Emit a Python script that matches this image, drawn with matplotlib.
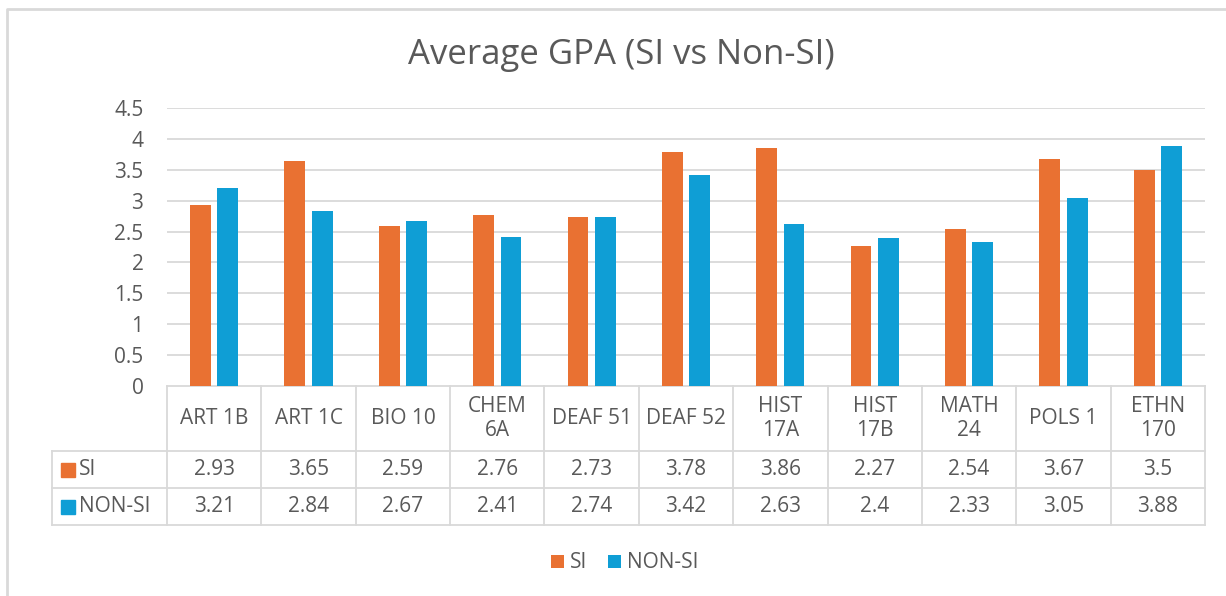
import numpy as np
import matplotlib
matplotlib.use('Agg')
import matplotlib.pyplot as plt
from matplotlib.lines import Line2D

# data
courses = ['ART 1B', 'ART 1C', 'BIO 10', 'CHEM\n6A', 'DEAF 51', 'DEAF 52',
           'HIST\n17A', 'HIST\n17B', 'MATH\n24', 'POLS 1', 'ETHN\n170']
si = [2.93, 3.65, 2.59, 2.76, 2.73, 3.78, 3.86, 2.27, 2.54, 3.67, 3.5]
non_si = [3.21, 2.84, 2.67, 2.41, 2.74, 3.42, 2.63, 2.4, 2.33, 3.05, 3.88]
series = ['SI', 'NON-SI']
yticks = [0, 0.5, 1, 1.5, 2, 2.5, 3, 3.5, 4, 4.5]

orange = '#E97132'
blue = '#0F9ED5'
txt = '#595959'
grid = '#D9D9D9'
fs = 15

plt.rcParams['font.family'] = ['Open Sans', 'DejaVu Sans']

W, H = 1226, 596
fig = plt.figure(figsize=(W / 100, H / 100), dpi=100)
fig.patch.set_facecolor('white')

# chart frame (only top and left edges fall inside the picture)
fig.lines.append(Line2D([7 / W, 7 / W, 1], [0, 1 - 9 / H, 1 - 9 / H],
                        transform=fig.transFigure, color=grid, linewidth=2))

left, right, top, bottom = 167, 1205, 108, 386
ax = fig.add_axes([left / W, 1 - bottom / H, (right - left) / W, (bottom - top) / H])

x = np.arange(len(courses))
bw = 0.22
off = 0.145
b1 = ax.bar(x - off, si, bw, color=orange, label=series[0], zorder=3)
b2 = ax.bar(x + off, non_si, bw, color=blue, label=series[1], zorder=3)

ax.set_xlim(-0.5, len(courses) - 0.5)
ax.set_ylim(0, 4.5)
ax.set_yticks(yticks)
ax.set_yticklabels([f'{v:g}' for v in yticks])
ax.tick_params(axis='y', length=0, labelsize=fs, labelcolor=txt, pad=17)
ax.set_xticks([])
for s in ax.spines.values():
    s.set_visible(False)
for v in yticks[1:]:
    ax.axhline(v, color=grid, linewidth=1.3, zorder=1)

fig.text(621 / W, 1 - 55 / H, 'Average GPA (SI vs Non-SI)', fontsize=25, color=txt,
         ha='center', va='center')

# data table below the axis
tr = ax.get_xaxis_transform()
px = (right - left) / len(courses)      # pixels per category
lab_left = -0.5 - (left - 52) / px      # row label column left edge (data units)
h_head = 65 / (bottom - top)
h_row = 37 / (bottom - top)
y_rows = [0, -h_head, -h_head - h_row, -h_head - 2 * h_row]
lw = 1.3

for yy in y_rows[1:]:
    ax.plot([lab_left, len(courses) - 0.5], [yy, yy], color=grid, lw=lw,
            transform=tr, clip_on=False)
ax.plot([-0.5, len(courses) - 0.5], [0, 0], color=grid, lw=lw, transform=tr, clip_on=False)
for xb in np.arange(len(courses) + 1) - 0.5:
    ax.plot([xb, xb], [0, y_rows[-1]], color=grid, lw=lw, transform=tr, clip_on=False)
ax.plot([lab_left, lab_left], [y_rows[1], y_rows[-1]], color=grid, lw=lw,
        transform=tr, clip_on=False)

for i, c in enumerate(courses):
    ax.text(i, (y_rows[0] + y_rows[1]) / 2, c, ha='center', va='center', fontsize=fs,
            color=txt, transform=tr, linespacing=1.25)

for r, (name, vals, col) in enumerate([(series[0], si, orange), (series[1], non_si, blue)]):
    yc = (y_rows[r + 1] + y_rows[r + 2]) / 2
    ax.plot([lab_left + 16 / px], [yc], marker='s', markersize=10, color=col,
            transform=tr, clip_on=False, linestyle='none')
    ax.text(lab_left + 27 / px, yc, name, ha='left', va='center', fontsize=fs,
            color=txt, transform=tr)
    for i, v in enumerate(vals):
        ax.text(i, yc, f'{v:g}', ha='center', va='center', fontsize=fs,
                color=txt, transform=tr)

fig.legend(handles=[b1, b2], loc='center', bbox_to_anchor=(625 / W, 1 - 563 / H),
           ncol=2, frameon=False, fontsize=fs, labelcolor=txt,
           handlelength=0.6, handleheight=0.6, handletextpad=0.3, columnspacing=1.0)

fig.savefig('out.png', dpi=100, facecolor='white')
